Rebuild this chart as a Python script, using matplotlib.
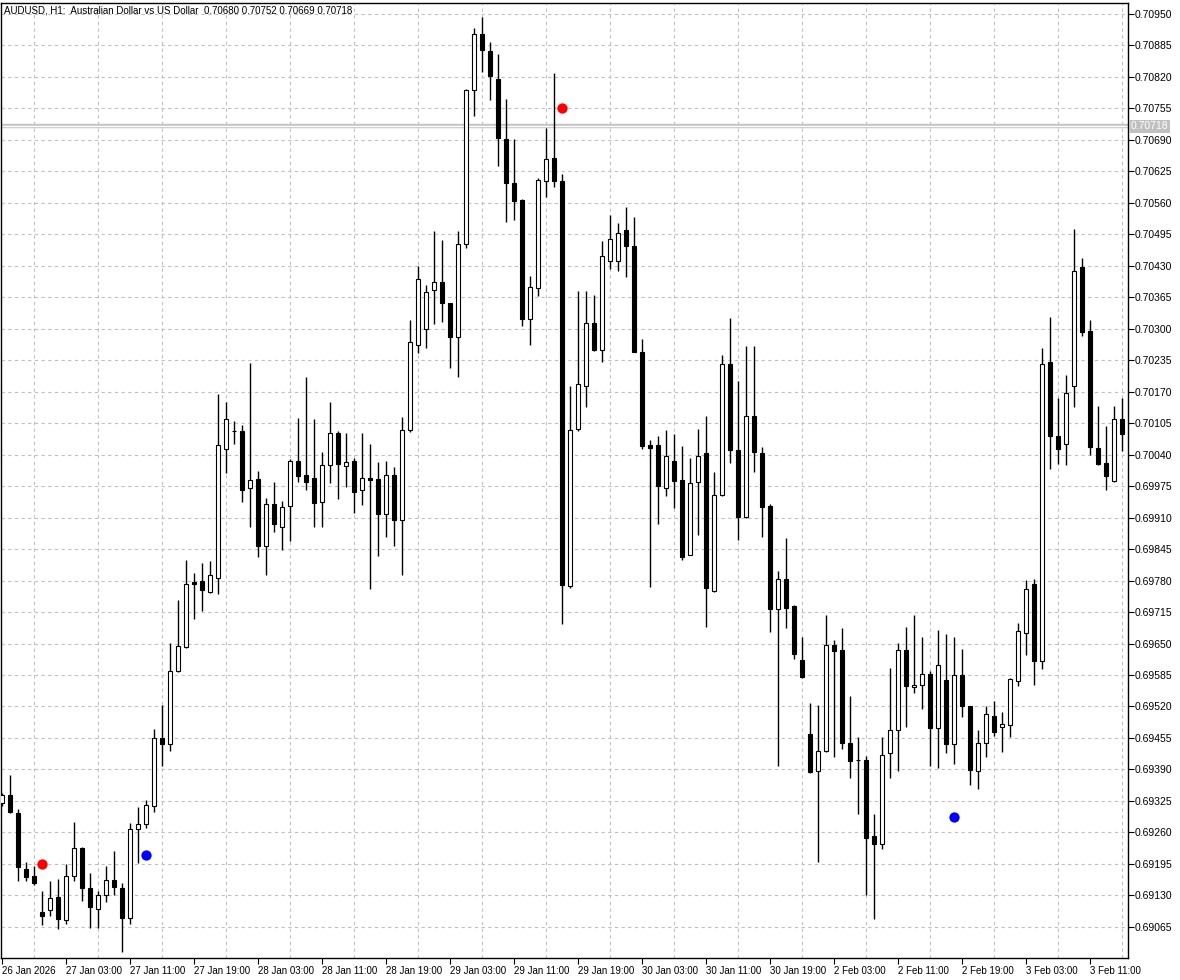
import numpy as np
import pandas as pd
import matplotlib
matplotlib.use('Agg')
import matplotlib.pyplot as plt
import matplotlib.transforms as mtransforms

plt.rcParams['font.family'] = ['Liberation Sans', 'DejaVu Sans']

TITLE = 'AUDUSD, H1:  Australian Dollar vs US Dollar  0.70680 0.70752 0.70669 0.70718'
LAST_PRICE = 0.70718

# H1 bars, 26 Jan 19:00 .. 3 Feb 15:00 (weekend has no bars)
hours = pd.date_range('2026-01-26 19:00', '2026-02-03 15:00', freq='h')
times = hours[hours.dayofweek < 5]

opens = [0.69321, 0.69337, 0.69300, 0.69184, 0.69170, 0.69096, 0.69100, 0.69127, 0.69079, 0.69170,
         0.69228, 0.69145, 0.69102, 0.69131, 0.69162, 0.69145, 0.69083, 0.69267, 0.69277, 0.69314,
         0.69455, 0.69442, 0.69593, 0.69643, 0.69777, 0.69779, 0.69756, 0.69785, 0.70052, 0.70088,
         0.70089, 0.69971, 0.69990, 0.69851, 0.69938, 0.69891, 0.69934, 0.70027, 0.69998, 0.69992,
         0.69942, 0.70019, 0.70085, 0.70017, 0.70027, 0.69967, 0.69992, 0.69990, 0.69917, 0.69998,
         0.69905, 0.70091, 0.70266, 0.70299, 0.70380, 0.70397, 0.70353, 0.70283, 0.70475, 0.70793,
         0.70909, 0.70874, 0.70816, 0.70692, 0.70601, 0.70566, 0.70321, 0.70385, 0.70605, 0.70652,
         0.70605, 0.69769, 0.70093, 0.70182, 0.70312, 0.70256, 0.70440, 0.70440, 0.70503, 0.70471,
         0.70252, 0.70060, 0.70060, 0.69972, 0.70027, 0.69988, 0.69833, 0.69983, 0.70044, 0.69758,
         0.69956, 0.70227, 0.70050, 0.69911, 0.70120, 0.70044, 0.69934, 0.69722, 0.69784, 0.69727,
         0.69617, 0.69463, 0.69386, 0.69428, 0.69647, 0.69636, 0.69445, 0.69410, 0.69409, 0.69252,
         0.69236, 0.69424, 0.69471, 0.69636, 0.69561, 0.69565, 0.69588, 0.69475, 0.69574, 0.69443,
         0.69584, 0.69521, 0.69387, 0.69444, 0.69500, 0.69477, 0.69481, 0.69573, 0.69672, 0.69773,
         0.69614, 0.70232, 0.70078, 0.70063, 0.70181, 0.70428, 0.70296, 0.70054, 0.70023, 0.69986,
         0.70114]
highs = [0.69341, 0.69378, 0.69308, 0.69199, 0.69191, 0.69139, 0.69160, 0.69164, 0.69195, 0.69281,
         0.69230, 0.69176, 0.69139, 0.69191, 0.69222, 0.69155, 0.69279, 0.69312, 0.69327, 0.69474,
         0.69523, 0.69651, 0.69740, 0.69822, 0.69796, 0.69816, 0.69820, 0.70165, 0.70149, 0.70110,
         0.70101, 0.70229, 0.70006, 0.69950, 0.69984, 0.69944, 0.70031, 0.70116, 0.70200, 0.70114,
         0.70045, 0.70149, 0.70089, 0.70085, 0.70033, 0.70085, 0.70062, 0.70025, 0.70027, 0.70014,
         0.70118, 0.70318, 0.70430, 0.70390, 0.70502, 0.70483, 0.70353, 0.70502, 0.70795, 0.70921,
         0.70944, 0.70892, 0.70867, 0.70774, 0.70692, 0.70568, 0.70409, 0.70611, 0.70714, 0.70828,
         0.70620, 0.70182, 0.70378, 0.70378, 0.70370, 0.70481, 0.70535, 0.70518, 0.70552, 0.70531,
         0.70279, 0.70070, 0.70079, 0.70091, 0.70083, 0.70058, 0.70033, 0.70093, 0.70120, 0.70005,
         0.70245, 0.70322, 0.70192, 0.70264, 0.70264, 0.70056, 0.69938, 0.69800, 0.69867, 0.69730,
         0.69664, 0.69527, 0.69524, 0.69709, 0.69657, 0.69682, 0.69542, 0.69456, 0.69417, 0.69298,
         0.69458, 0.69599, 0.69652, 0.69685, 0.69709, 0.69663, 0.69593, 0.69677, 0.69670, 0.69663,
         0.69638, 0.69521, 0.69471, 0.69522, 0.69531, 0.69508, 0.69578, 0.69693, 0.69782, 0.69784,
         0.70261, 0.70325, 0.70158, 0.70205, 0.70507, 0.70447, 0.70319, 0.70140, 0.70100, 0.70140,
         0.70158]
lows = [0.69314, 0.69300, 0.69160, 0.69160, 0.69151, 0.69069, 0.69087, 0.69060, 0.69071, 0.69160,
        0.69118, 0.69063, 0.69063, 0.69116, 0.69131, 0.69013, 0.69071, 0.69197, 0.69269, 0.69302,
        0.69397, 0.69428, 0.69591, 0.69641, 0.69701, 0.69717, 0.69754, 0.69752, 0.70002, 0.70062,
        0.69942, 0.69891, 0.69829, 0.69792, 0.69880, 0.69843, 0.69862, 0.69984, 0.69967, 0.69891,
        0.69891, 0.69981, 0.69948, 0.69973, 0.69920, 0.69936, 0.69763, 0.69831, 0.69870, 0.69851,
        0.69792, 0.70087, 0.70250, 0.70260, 0.70310, 0.70314, 0.70219, 0.70200, 0.70467, 0.70739,
        0.70830, 0.70772, 0.70636, 0.70520, 0.70525, 0.70306, 0.70266, 0.70368, 0.70573, 0.70592,
        0.69690, 0.69765, 0.70089, 0.70138, 0.70254, 0.70232, 0.70423, 0.70419, 0.70407, 0.70252,
        0.70052, 0.69767, 0.69897, 0.69955, 0.69930, 0.69822, 0.69832, 0.69874, 0.69684, 0.69756,
        0.69954, 0.70023, 0.69864, 0.69910, 0.70004, 0.69870, 0.69674, 0.69397, 0.69682, 0.69618,
        0.69579, 0.69383, 0.69198, 0.69426, 0.69415, 0.69432, 0.69373, 0.69297, 0.69130, 0.69082,
        0.69226, 0.69373, 0.69387, 0.69477, 0.69547, 0.69514, 0.69398, 0.69392, 0.69423, 0.69402,
        0.69499, 0.69357, 0.69350, 0.69416, 0.69460, 0.69427, 0.69458, 0.69562, 0.69627, 0.69565,
        0.69598, 0.70011, 0.70020, 0.70019, 0.70138, 0.70285, 0.70039, 0.70019, 0.69968, 0.69983,
        0.70048]
closes = [0.69337, 0.69302, 0.69188, 0.69168, 0.69155, 0.69087, 0.69124, 0.69081, 0.69170, 0.69228,
          0.69145, 0.69106, 0.69131, 0.69162, 0.69147, 0.69083, 0.69267, 0.69277, 0.69317, 0.69455,
          0.69442, 0.69593, 0.69645, 0.69773, 0.69773, 0.69760, 0.69791, 0.70060, 0.70114, 0.70089,
          0.69967, 0.69988, 0.69851, 0.69938, 0.69897, 0.69932, 0.70027, 0.69996, 0.69984, 0.69940,
          0.70019, 0.70085, 0.70021, 0.70025, 0.69963, 0.69992, 0.69988, 0.69917, 0.69998, 0.69905,
          0.70091, 0.70273, 0.70403, 0.70376, 0.70397, 0.70353, 0.70283, 0.70475, 0.70793, 0.70909,
          0.70876, 0.70822, 0.70694, 0.70601, 0.70564, 0.70320, 0.70387, 0.70608, 0.70650, 0.70605,
          0.69771, 0.70091, 0.70186, 0.70312, 0.70256, 0.70450, 0.70485, 0.70497, 0.70471, 0.70252,
          0.70058, 0.70054, 0.69975, 0.70037, 0.69986, 0.69828, 0.69982, 0.70038, 0.69764, 0.69956,
          0.70227, 0.70050, 0.69911, 0.70120, 0.70045, 0.69932, 0.69722, 0.69784, 0.69723, 0.69628,
          0.69581, 0.69385, 0.69428, 0.69646, 0.69634, 0.69445, 0.69407, 0.69409, 0.69249, 0.69236,
          0.69420, 0.69472, 0.69636, 0.69562, 0.69565, 0.69588, 0.69475, 0.69605, 0.69443, 0.69586,
          0.69520, 0.69388, 0.69445, 0.69504, 0.69468, 0.69483, 0.69576, 0.69676, 0.69763, 0.69614,
          0.70228, 0.70078, 0.70052, 0.70168, 0.70420, 0.70293, 0.70056, 0.70021, 0.69996, 0.70114,
          0.70083]

# signal dots (bar index, price)
red_bars = [5, 70]
red_prices = [0.69195, 0.70756]
blue_bars = [18, 119]
blue_prices = [0.69213, 0.69292]

o, h, l, c = map(np.array, (opens, highs, lows, closes))
x = np.arange(len(o))
up = c > o

fig = plt.figure(figsize=(11.8, 9.8), dpi=100)
ax = fig.add_axes([1/1180, 22/980, 1127/1180, 955/980])
ax.set_axisbelow(True)

# price line (bid)
ax.axhline(LAST_PRICE, color='#c4c4c4', lw=3.2, zorder=1)
ax.axhline(LAST_PRICE, color='white', lw=1.0, zorder=1.1)

ax.vlines(x, l, h, color='black', lw=1.0, zorder=2)
body = np.maximum(np.abs(c - o), 0.000012)
ax.bar(x, body, bottom=np.minimum(o, c), width=0.62,
       color=np.where(up, 'white', 'black'), edgecolor='black', lw=0.8, zorder=3)

ax.scatter(red_bars, red_prices, s=55, color='#ff0000', zorder=5, linewidths=0)
ax.scatter(blue_bars, blue_prices, s=55, color='#0000ff', zorder=5, linewidths=0)

ax.set_xlim(-0.125, 140.75)
ax.set_ylim(0.690006, 0.709727)

# y axis on the right
yt = np.round(np.arange(0.69065, 0.709501, 0.00065), 5)
ax.yaxis.tick_right()
ax.set_yticks(yt)
ax.set_yticklabels([f'{v:.5f}' for v in yt])
ax.tick_params(axis='y', direction='out', length=4, width=0.8, labelsize=7.5, pad=1)

# x axis: label every 8 bars, grid every 4 bars
ax.set_xticks(x[::8])
labels = [f'{t.day} {t:%b} {t.year}' if i == 0 else f'{t.day} {t:%b %H:%M}'
          for i, t in enumerate(times[::8])]
ax.set_xticklabels(labels, ha='left')
ax.set_xticks(x[::4], minor=True)
ax.tick_params(axis='x', which='major', direction='out', length=4, width=0.8, labelsize=7, pad=2)
ax.tick_params(axis='x', which='minor', length=0)

ax.xaxis.grid(True, which='minor', color='#c0c0c0', lw=0.8, ls=(0, (3, 3)))
ax.yaxis.grid(True, which='major', color='#c0c0c0', lw=0.8, ls=(0, (3, 3)))

for s in ax.spines.values():
    s.set_color('black'); s.set_linewidth(1.0)

ax.text(0.003, 1 - 3/955, TITLE, transform=ax.transAxes, va='top', ha='left', fontsize=7)

tr = mtransforms.blended_transform_factory(ax.transAxes, ax.transData)
ax.text(1.0025, LAST_PRICE, f'{LAST_PRICE:.5f}', transform=tr, va='center', ha='left',
        fontsize=7.5, color='white', clip_on=False,
        bbox=dict(boxstyle='square,pad=0.15', fc='#c0c0c0', ec='none'))

fig.savefig('out.png', dpi=100, facecolor='white')
